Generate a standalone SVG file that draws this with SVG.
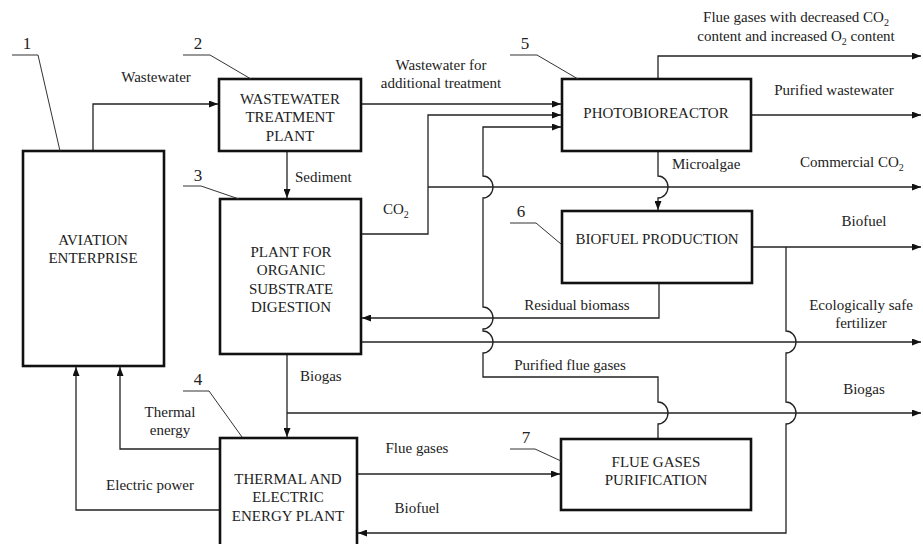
<svg xmlns="http://www.w3.org/2000/svg" width="923" height="544" viewBox="0 0 923 544">
<style>
.box{fill:#fff;stroke:#111;stroke-width:2.6}
.c{fill:none;stroke:#222;stroke-width:1.3}
.ld{fill:none;stroke:#333;stroke-width:1}
text{font-family:"Liberation Serif","Times New Roman",serif;font-size:15px;fill:#222}
.m{text-anchor:middle}
.n{font-size:17px}
</style>
<defs>
<marker id="ah" markerWidth="9" markerHeight="7" refX="9" refY="3.5" orient="auto" markerUnits="userSpaceOnUse"><path d="M0,0 L9,3.5 L0,7 z" fill="#111"/></marker>
</defs>
<rect width="923" height="544" fill="#fff"/>
<g id="connectors">
<path class="c" d="M93,151 V104 H218" marker-end="url(#ah)"/>
<path class="c" d="M361,104 H561" marker-end="url(#ah)"/>
<path class="c" d="M287,151 V198" marker-end="url(#ah)"/>
<path class="c" d="M361,234 H428 V115 H561" marker-end="url(#ah)"/>
<path class="c" d="M428,187 H921" marker-end="url(#ah)"/>
<path class="c" d="M658,439 V424 A10,11 0 0 0 658,402 V377 H483 V353 A10,11 0 0 0 483,331 V329 A10,11 0 0 0 483,307 V198 A10,11 0 0 0 483,176 V127 H561" marker-end="url(#ah)"/>
<path class="c" d="M658,79 V56 H921" marker-end="url(#ah)"/>
<path class="c" d="M751,115 H921" marker-end="url(#ah)"/>
<path class="c" d="M658,151 V176 A10,11 0 0 1 658,198 V210" marker-end="url(#ah)"/>
<path class="c" d="M752,247 H921" marker-end="url(#ah)"/>
<path class="c" d="M786,247 V331 A10,11 0 0 1 786,353 V402 A10,11 0 0 1 786,424 V533 H358" marker-end="url(#ah)"/>
<path class="c" d="M659,283 V318 H362" marker-end="url(#ah)"/>
<path class="c" d="M361,342 H921" marker-end="url(#ah)"/>
<path class="c" d="M287,354 V437" marker-end="url(#ah)"/>
<path class="c" d="M287,413 H921" marker-end="url(#ah)"/>
<path class="c" d="M220,449 H120 V367" marker-end="url(#ah)"/>
<path class="c" d="M220,510 H76 V367" marker-end="url(#ah)"/>
<path class="c" d="M357,474 H560" marker-end="url(#ah)"/>
<text x="156" y="82" class="m">Wastewater</text>
<text x="441" y="70" class="m">Wastewater for</text>
<text x="441" y="88" class="m">additional treatment</text>
<text x="295" y="182">Sediment</text>
<text x="383" y="214">CO<tspan font-size="10" dy="4">2</tspan></text>
<text x="796" y="22" class="m">Flue gases with decreased CO<tspan font-size="10" dy="4">2</tspan></text>
<text x="796" y="41" class="m">content and increased O<tspan font-size="10" dy="4">2</tspan><tspan dy="-4"> content</tspan></text>
<text x="834" y="95" class="m">Purified wastewater</text>
<text x="672" y="169">Microalgae</text>
<text x="800" y="167">Commercial CO<tspan font-size="10" dy="4">2</tspan></text>
<text x="864" y="226" class="m">Biofuel</text>
<text x="577" y="310" class="m">Residual biomass</text>
<text x="861" y="310" class="m">Ecologically safe</text>
<text x="861" y="328" class="m">fertilizer</text>
<text x="570" y="370" class="m">Purified flue gases</text>
<text x="300" y="381">Biogas</text>
<text x="864" y="394" class="m">Biogas</text>
<text x="170" y="417" class="m">Thermal</text>
<text x="170" y="435" class="m">energy</text>
<text x="150" y="490" class="m">Electric power</text>
<text x="417" y="453" class="m">Flue gases</text>
<text x="417" y="513" class="m">Biofuel</text>
</g>
<g id="node1">
<rect class="box" x="23" y="151" width="141" height="215"/>
<text x="93" y="245" class="m">AVIATION</text>
<text x="93" y="263" class="m">ENTERPRISE</text>
<path class="ld" d="M12,55 H38 L60,151"/>
<text x="27" y="49" class="m n">1</text>
</g>
<g id="node2">
<rect class="box" x="219" y="79" width="142" height="72"/>
<text x="290" y="104" class="m">WASTEWATER</text>
<text x="290" y="122" class="m">TREATMENT</text>
<text x="290" y="141" class="m">PLANT</text>
<path class="ld" d="M183,55 H210 L251,79"/>
<text x="198" y="49" class="m n">2</text>
</g>
<g id="node3">
<rect class="box" x="220" y="199" width="141" height="155"/>
<text x="291" y="257" class="m">PLANT FOR</text>
<text x="291" y="275" class="m">ORGANIC</text>
<text x="291" y="294" class="m">SUBSTRATE</text>
<text x="291" y="312" class="m">DIGESTION</text>
<path class="ld" d="M183,186 H201 L239,199"/>
<text x="198" y="181" class="m n">3</text>
</g>
<g id="node4">
<rect class="box" x="220" y="438" width="137" height="112"/>
<text x="288" y="484" class="m">THERMAL AND</text>
<text x="288" y="502" class="m">ELECTRIC</text>
<text x="288" y="521" class="m">ENERGY PLANT</text>
<path class="ld" d="M183,391 H209 L242,437"/>
<text x="198" y="385" class="m n">4</text>
</g>
<g id="node5">
<rect class="box" x="562" y="79" width="189" height="72"/>
<text x="656" y="118" class="m">PHOTOBIOREACTOR</text>
<path class="ld" d="M510,55 H537 L578,79"/>
<text x="525" y="49" class="m n">5</text>
</g>
<g id="node6">
<rect class="box" x="562" y="211" width="190" height="72"/>
<text x="657" y="244" class="m">BIOFUEL PRODUCTION</text>
<path class="ld" d="M510,223 H536 L561,244"/>
<text x="521" y="217" class="m n">6</text>
</g>
<g id="node7">
<rect class="box" x="561" y="439" width="190" height="71"/>
<text x="656" y="467" class="m">FLUE GASES</text>
<text x="656" y="485" class="m">PURIFICATION</text>
<path class="ld" d="M510,449 H535 L561,461"/>
<text x="526" y="443" class="m n">7</text>
</g>
</svg>
